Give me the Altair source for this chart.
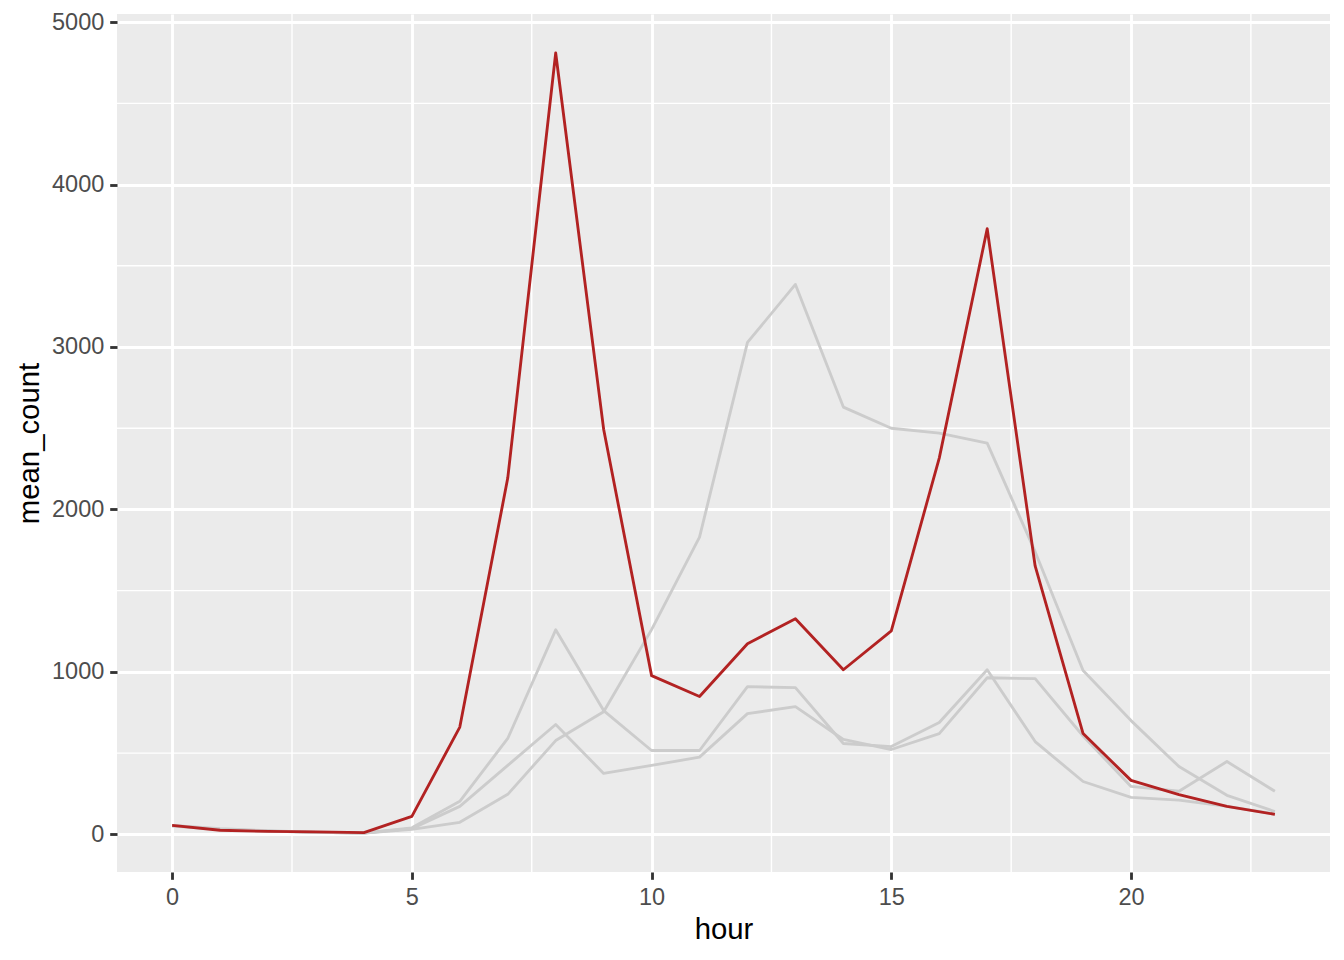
import altair as alt
import pandas as pd

hours = list(range(24))

# highlighted series (red)
workday = [55, 25, 18, 15, 10, 110, 660, 2193, 4810, 2494, 977, 848,
           1173, 1327, 1013, 1253, 2316, 3728, 1652, 620, 332, 245, 172, 123]

# background series (grey)
series_a = [50, 30, 20, 12, 8, 40, 203, 590, 1259, 762, 516, 516,
            909, 903, 559, 540, 688, 1013, 571, 325, 227, 210, 172, 125]
series_b = [55, 35, 22, 12, 8, 30, 74, 246, 577, 755, 1260, 1830,
            3028, 3385, 2630, 2500, 2470, 2408, 1740, 1008, 700, 417, 240, 140]
series_c = [55, 30, 20, 12, 8, 35, 172, 424, 676, 375, 424, 475,
            743, 786, 584, 522, 620, 964, 958, 605, 295, 265, 448, 265]

x_major = [0, 5, 10, 15, 20]
x_minor = [2.5, 7.5, 12.5, 17.5, 22.5]
y_major = [0, 1000, 2000, 3000, 4000, 5000]
y_minor = [500, 1500, 2500, 3500, 4500]

rows = []
for name, vals in [("a", series_a), ("b", series_b), ("c", series_c)]:
    for h, v in zip(hours, vals):
        rows.append({"hour": h, "mean_count": v, "group": name})
grey_df = pd.DataFrame(rows)
red_df = pd.DataFrame({"hour": hours, "mean_count": workday})

xscale = alt.Scale(domain=[-1.15, 24.15], nice=False, zero=False)
yscale = alt.Scale(domain=[-232, 5050], nice=False, zero=False)

xenc = alt.X("hour:Q", scale=xscale, axis=alt.Axis(values=x_major, title="hour", format="d"))
yenc = alt.Y("mean_count:Q", scale=yscale, axis=alt.Axis(values=y_major, title="mean_count", format="d"))

vminor = alt.Chart(pd.DataFrame({"hour": x_minor})).mark_rule(
    color="white", strokeWidth=1.42
).encode(x=xenc)

hminor = alt.Chart(pd.DataFrame({"mean_count": y_minor})).mark_rule(
    color="white", strokeWidth=1.42
).encode(y=yenc)

grey = alt.Chart(grey_df).mark_line(
    color="#CCCCCC", strokeWidth=2.85, strokeJoin="round"
).encode(x=xenc, y=yenc, detail="group:N")

red = alt.Chart(red_df).mark_line(
    color="#B22222", strokeWidth=2.85, strokeJoin="round"
).encode(x=xenc, y=yenc)

chart = alt.layer(vminor, hminor, grey, red).properties(
    width=1213,
    height=858,
    autosize=alt.AutoSizeParams(type="none"),
    padding={"left": 109, "top": 6, "right": 0, "bottom": 74},
    background="white",
).configure_view(
    fill="#EBEBEB", strokeWidth=0
).configure_axis(
    grid=True,
    gridColor="white",
    gridWidth=2.85,
    domain=False,
    ticks=True,
    tickSize=7.3,
    tickWidth=2.85,
    tickColor="#333333",
    labelFont="Liberation Sans",
    labelFontSize=23.5,
    labelColor="#4D4D4D",
    labelPadding=5.9,
    titleFont="Liberation Sans",
    titleFontSize=29.3,
    titleFontWeight="normal",
    titleColor="black",
    titlePadding=7,
)

chart.save("out.html", embed_options={"renderer": "svg", "actions": False})
